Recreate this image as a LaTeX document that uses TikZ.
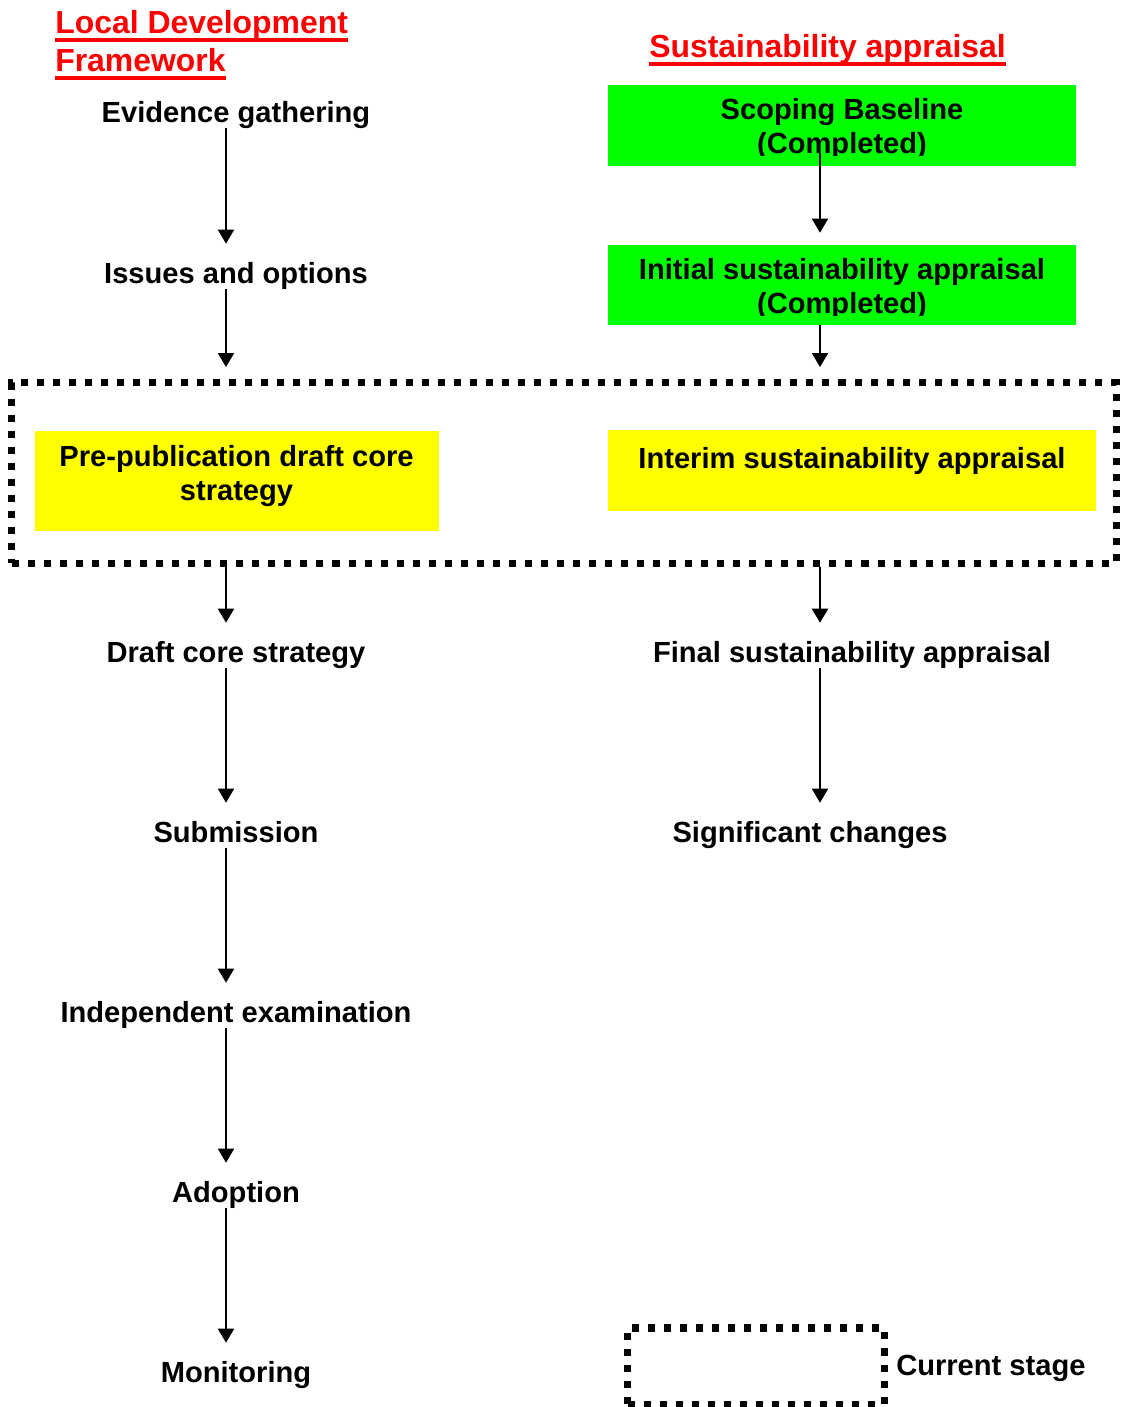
\documentclass[tikz,border=0pt]{standalone}
\usepackage{fontspec}
\setmainfont{Liberation Sans}
\usetikzlibrary{arrows.meta}
\definecolor{donegreen}{RGB}{0,255,0}
\definecolor{nowyellow}{RGB}{255,255,0}
\definecolor{titlered}{RGB}{255,0,0}
\newcommand{\titleline}[1]{\setbox0\hbox{#1}\leavevmode\rlap{\rule[-6.4pt]{\wd0}{2.8pt}}\box0}
\tikzset{
  stage/.style={font=\fontsize{20.7}{23.5}\selectfont\bfseries, anchor=base, inner sep=0pt,
    text height=0.975cm, text depth=0.15cm},
  boxtext/.style={font=\fontsize{20.7}{23.5}\selectfont\bfseries, anchor=base, inner sep=0pt, align=center},
  title/.style={font=\fontsize{22.7}{27}\selectfont\bfseries, text=titlered, anchor=base west,
    inner sep=0pt, align=left},
  colbox/.style={inner sep=0pt, draw=none},
  curstage/.style={draw, line width=5pt, dash pattern=on 5pt off 6.4pt},
  arr/.style={-{Triangle[width=11.4pt,length=10pt]}, line width=1.4pt}
}
\begin{document}
\begin{tikzpicture}[x=0.025cm, y=-0.025cm]
\useasboundingbox (0,0) rectangle (1120,1407);
\coordinate (lx) at (226,0);
\coordinate (rx) at (820,0);
% titles
\node[title] (ldf) at (55,71) {\titleline{Local Development}\\\titleline{Framework}};
\node[title] (sa) at (649,57) {\titleline{Sustainability appraisal}};
% coloured boxes
\node[colbox, fill=donegreen, minimum width=11.7cm, minimum height=2.025cm] (scoping) at (842,125.5) {};
\node[colbox, fill=donegreen, minimum width=11.7cm, minimum height=2cm] (initial) at (842,285) {};
\node[colbox, fill=nowyellow, minimum width=10.1cm, minimum height=2.5cm] (prepub) at (237,481) {};
\node[colbox, fill=nowyellow, minimum width=12.2cm, minimum height=2.025cm] (interim) at (852,470.5) {};
\begin{scope}
\clip (scoping.north west) rectangle ([yshift=0.275cm]scoping.south east);
\node[boxtext] (scopingtext) at (842,153) {Scoping Baseline\\(Completed)};
\end{scope}
\begin{scope}
\clip (initial.north west) rectangle ([yshift=0.25cm]initial.south east);
\node[boxtext] (initialtext) at (842,313) {Initial sustainability appraisal\\(Completed)};
\end{scope}
\node[boxtext] (prepubtext) at (236.5,500) {Pre-publication draft core\\strategy};
\node[boxtext] (interimtext) at (852,468) {Interim sustainability appraisal};
% current stage frame
\node[curstage, minimum width=27.6cm, minimum height=4.5cm] (cur) at (564,473) {};
% stages
\node[stage] (evid) at (236,122) {Evidence gathering};
\node[stage] (issues) at (236,283) {Issues and options};
\node[stage] (draft) at (236,662) {Draft core strategy};
\node[stage] (final) at (852,662) {Final sustainability appraisal};
\node[stage] (submission) at (236,842) {Submission};
\node[stage] (signif) at (810,842) {Significant changes};
\node[stage] (indep) at (236,1022) {Independent examination};
\node[stage] (adopt) at (236,1202) {Adoption};
\node[stage] (monit) at (236,1382) {Monitoring};
% arrows
\draw[arr] (evid.south -| lx) -- (issues.north -| lx);
\draw[arr, shorten >=0.31cm] (issues.south -| lx) -- (cur.north -| lx);
\draw[arr, shorten <=-0.325cm, shorten >=0.3cm] (scoping.south -| rx) -- (initial.north -| rx);
\draw[arr, shorten >=0.31cm] (initial.south -| rx) -- (cur.north -| rx);
\draw[arr] (cur.south -| lx) -- (draft.north -| lx);
\draw[arr] (cur.south -| rx) -- (final.north -| rx);
\draw[arr] (draft.south -| lx) -- (submission.north -| lx);
\draw[arr] (final.south -| rx) -- (signif.north -| rx);
\draw[arr] (submission.south -| lx) -- (indep.north -| lx);
\draw[arr] (indep.south -| lx) -- (adopt.north -| lx);
\draw[arr] (adopt.south -| lx) -- (monit.north -| lx);
% legend
\node[curstage, minimum width=6.4cm, minimum height=1.9cm] (legend) at (756,1366) {};
\node[stage, anchor=base west] (legendtext) at (896,1375) {Current stage};
\end{tikzpicture}
\end{document}
